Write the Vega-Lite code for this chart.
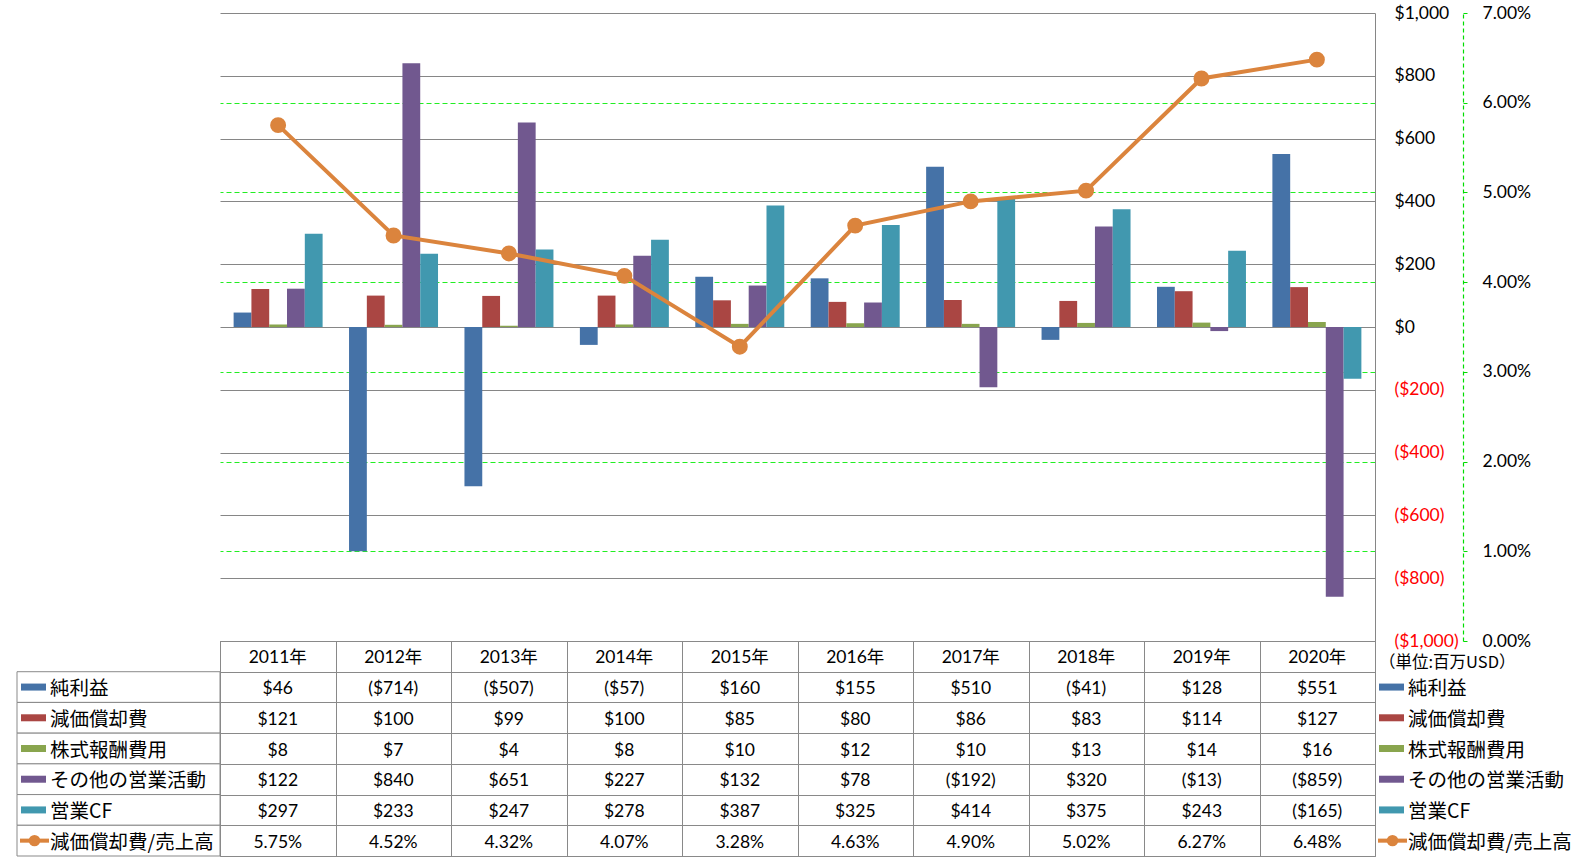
{
  "$schema": "https://vega.github.io/schema/vega-lite/v6.json",
  "padding": {"left": 16, "top": 4, "right": 0, "bottom": 0},
  "autosize": {"type": "pad"},
  "background": "white",
  "config": {
    "view": {"stroke": null},
    "font": "Lato, 'Noto Sans CJK JP'",
    "axis": {"labelFont": "Lato, 'Noto Sans CJK JP'"}
  },
  "datasets": {
    "cf": [
      {"year": "2011年", "series": "純利益", "value": 46},
      {"year": "2012年", "series": "純利益", "value": -714},
      {"year": "2013年", "series": "純利益", "value": -507},
      {"year": "2014年", "series": "純利益", "value": -57},
      {"year": "2015年", "series": "純利益", "value": 160},
      {"year": "2016年", "series": "純利益", "value": 155},
      {"year": "2017年", "series": "純利益", "value": 510},
      {"year": "2018年", "series": "純利益", "value": -41},
      {"year": "2019年", "series": "純利益", "value": 128},
      {"year": "2020年", "series": "純利益", "value": 551},
      {"year": "2011年", "series": "減価償却費", "value": 121},
      {"year": "2012年", "series": "減価償却費", "value": 100},
      {"year": "2013年", "series": "減価償却費", "value": 99},
      {"year": "2014年", "series": "減価償却費", "value": 100},
      {"year": "2015年", "series": "減価償却費", "value": 85},
      {"year": "2016年", "series": "減価償却費", "value": 80},
      {"year": "2017年", "series": "減価償却費", "value": 86},
      {"year": "2018年", "series": "減価償却費", "value": 83},
      {"year": "2019年", "series": "減価償却費", "value": 114},
      {"year": "2020年", "series": "減価償却費", "value": 127},
      {"year": "2011年", "series": "株式報酬費用", "value": 8},
      {"year": "2012年", "series": "株式報酬費用", "value": 7},
      {"year": "2013年", "series": "株式報酬費用", "value": 4},
      {"year": "2014年", "series": "株式報酬費用", "value": 8},
      {"year": "2015年", "series": "株式報酬費用", "value": 10},
      {"year": "2016年", "series": "株式報酬費用", "value": 12},
      {"year": "2017年", "series": "株式報酬費用", "value": 10},
      {"year": "2018年", "series": "株式報酬費用", "value": 13},
      {"year": "2019年", "series": "株式報酬費用", "value": 14},
      {"year": "2020年", "series": "株式報酬費用", "value": 16},
      {"year": "2011年", "series": "その他の営業活動", "value": 122},
      {"year": "2012年", "series": "その他の営業活動", "value": 840},
      {"year": "2013年", "series": "その他の営業活動", "value": 651},
      {"year": "2014年", "series": "その他の営業活動", "value": 227},
      {"year": "2015年", "series": "その他の営業活動", "value": 132},
      {"year": "2016年", "series": "その他の営業活動", "value": 78},
      {"year": "2017年", "series": "その他の営業活動", "value": -192},
      {"year": "2018年", "series": "その他の営業活動", "value": 320},
      {"year": "2019年", "series": "その他の営業活動", "value": -13},
      {"year": "2020年", "series": "その他の営業活動", "value": -859},
      {"year": "2011年", "series": "営業CF", "value": 297},
      {"year": "2012年", "series": "営業CF", "value": 233},
      {"year": "2013年", "series": "営業CF", "value": 247},
      {"year": "2014年", "series": "営業CF", "value": 278},
      {"year": "2015年", "series": "営業CF", "value": 387},
      {"year": "2016年", "series": "営業CF", "value": 325},
      {"year": "2017年", "series": "営業CF", "value": 414},
      {"year": "2018年", "series": "営業CF", "value": 375},
      {"year": "2019年", "series": "営業CF", "value": 243},
      {"year": "2020年", "series": "営業CF", "value": -165},
      {"year": "2011年", "series": "減価償却費/売上高", "value": 0.0575},
      {"year": "2012年", "series": "減価償却費/売上高", "value": 0.0452},
      {"year": "2013年", "series": "減価償却費/売上高", "value": 0.0432},
      {"year": "2014年", "series": "減価償却費/売上高", "value": 0.0407},
      {"year": "2015年", "series": "減価償却費/売上高", "value": 0.0328},
      {"year": "2016年", "series": "減価償却費/売上高", "value": 0.0463},
      {"year": "2017年", "series": "減価償却費/売上高", "value": 0.0490},
      {"year": "2018年", "series": "減価償却費/売上高", "value": 0.0502},
      {"year": "2019年", "series": "減価償却費/売上高", "value": 0.0627},
      {"year": "2020年", "series": "減価償却費/売上高", "value": 0.0648}
    ],
    "names": [
      {"series": "純利益", "kind": "bar"},
      {"series": "減価償却費", "kind": "bar"},
      {"series": "株式報酬費用", "kind": "bar"},
      {"series": "その他の営業活動", "kind": "bar"},
      {"series": "営業CF", "kind": "bar"},
      {"series": "減価償却費/売上高", "kind": "line"}
    ]
  },
  "columns": 3,
  "spacing": 0,
  "bounds": "flush",
  "resolve": {"scale": {"x": "independent", "y": "independent", "color": "independent", "xOffset": "independent"}},
  "concat": [
    {
      "width": 203, "height": 628,
      "data": {"values": []},
      "mark": "point",
      "encoding": {}
    },
    {
      "width": 1155, "height": 628,
      "data": {"name": "cf"},
      "layer": [
        {
          "transform": [{"filter": "datum.series == '減価償却費/売上高'"}],
          "mark": {"type": "line", "color": "#DB843D", "strokeWidth": 4, "opacity": 0},
          "encoding": {
            "x": {"field": "year", "type": "ordinal", "sort": null, "axis": null},
            "y": {"field": "value", "type": "quantitative",
                  "scale": {"domain": [0, 0.07], "nice": false, "zero": false},
                  "axis": {
                    "orient": "right", "offset": 88, "values": [0, 0.01, 0.02, 0.03, 0.04, 0.05, 0.06, 0.07],
                    "format": ".2%", "title": null,
                    "ticks": true, "tickSize": 4, "tickColor": "#00DD00",
                    "labelPadding": 15, "labelFontSize": 17.5, "labelColor": "#000000",
                    "labelFlush": false, "labelOverlap": false, "labelAlign": "left",
                    "domain": true, "domainColor": "#00DD00", "domainDash": [4, 3], "domainWidth": 1.2,
                    "grid": true, "gridColor": "#22EE22", "gridDash": [5, 3], "gridWidth": 1.2,
                    "gridOpacity": {"condition": {"test": "datum.value < 0.005 || datum.value > 0.065", "value": 0}, "value": 1}
                  }}
          }
        },
        {
          "transform": [{"filter": "datum.series != '減価償却費/売上高'"}],
          "mark": {"type": "bar"},
          "encoding": {
            "x": {"field": "year", "type": "ordinal", "sort": null,
                  "scale": {"paddingInner": 0.229, "paddingOuter": 0.118}, "axis": null},
            "xOffset": {"field": "series", "type": "nominal",
                  "sort": ["純利益", "減価償却費", "株式報酬費用", "その他の営業活動", "営業CF"],
                  "scale": {"paddingInner": 0, "paddingOuter": 0}},
            "y": {"field": "value", "type": "quantitative",
                  "scale": {"domain": [-1000, 1000], "nice": false, "zero": false},
                  "axis": {
                    "orient": "right", "values": [-1000, -800, -600, -400, -200, 0, 200, 400, 600, 800, 1000],
                    "title": null, "ticks": false, "labelPadding": 19,
                    "domain": true, "domainColor": "#868686", "domainWidth": 1,
                    "grid": true, "gridColor": "#868686", "gridWidth": 1,
                    "labelFontSize": 17.5, "labelFlush": false, "labelOverlap": false,
                    "labelAlign": "left",
                    "labelExpr": "datum.value < 0 ? '($' + format(-datum.value, ',') + ')' : '$' + format(datum.value, ',')",
                    "labelColor": {"condition": {"test": "datum.value < 0", "value": "#FF0000"}, "value": "#000000"}
                  }},
            "color": {"field": "series", "type": "nominal",
                  "scale": {"domain": ["純利益", "減価償却費", "株式報酬費用", "その他の営業活動", "営業CF"],
                            "range": ["#4572A7", "#AA4643", "#89A54E", "#71588F", "#4198AF"]},
                  "legend": null}
          }
        },
        {
          "transform": [{"filter": "datum.series == '減価償却費/売上高'"}],
          "mark": {"type": "line", "color": "#DB843D", "strokeWidth": 4,
                   "point": {"filled": true, "size": 254, "color": "#DB843D", "opacity": 1}},
          "encoding": {
            "x": {"field": "year", "type": "ordinal", "sort": null, "axis": null},
            "y": {"field": "value", "type": "quantitative",
                  "scale": {"domain": [0, 0.07], "nice": false, "zero": false}, "axis": null}
          }
        }
      ],
      "resolve": {"scale": {"y": "independent"}, "axis": {"y": "independent"}}
    },
    {
      "width": 207, "height": 628,
      "data": {"values": []},
      "mark": "point",
      "encoding": {}
    },
    {
      "width": 203, "height": 215,
      "data": {"name": "names"},
      "layer": [
        {
          "mark": {"type": "rect", "fill": "white", "stroke": "#898989", "strokeWidth": 1},
          "encoding": {
            "y": {"field": "series", "type": "nominal",
                  "scale": {"domain": ["_", "純利益", "減価償却費", "株式報酬費用", "その他の営業活動", "営業CF", "減価償却費/売上高"], "paddingInner": 0, "paddingOuter": 0},
                  "axis": null}
          }
        },
        {
          "transform": [{"filter": "datum.kind == 'bar'"}],
          "mark": {"type": "point", "filled": true, "opacity": 1, "size": 625, "shape": "M-1,-0.28L1,-0.28L1,0.28L-1,0.28Z"},
          "encoding": {
            "x": {"datum": 16.5, "type": "quantitative", "scale": {"domain": [0, 203], "nice": false, "zero": false}, "axis": null},
            "y": {"field": "series", "type": "nominal"},
            "color": {"field": "series", "type": "nominal",
                  "scale": {"domain": ["純利益", "減価償却費", "株式報酬費用", "その他の営業活動", "営業CF"],
                            "range": ["#4572A7", "#AA4643", "#89A54E", "#71588F", "#4198AF"]},
                  "legend": null}
          }
        },
        {
          "transform": [{"filter": "datum.kind == 'line'"}],
          "mark": {"type": "point", "filled": true, "opacity": 1, "size": 841, "color": "#DB843D", "shape": "M-1,-0.14L1,-0.14L1,0.14L-1,0.14Z"},
          "encoding": {
            "x": {"datum": 17.5, "type": "quantitative"},
            "y": {"field": "series", "type": "nominal"}
          }
        },
        {
          "transform": [{"filter": "datum.kind == 'line'"}],
          "mark": {"type": "point", "filled": true, "opacity": 1, "size": 130, "color": "#DB843D"},
          "encoding": {
            "x": {"datum": 17.5, "type": "quantitative"},
            "y": {"field": "series", "type": "nominal"}
          }
        },
        {
          "mark": {"type": "text", "align": "left", "baseline": "middle", "dy": 2, "font": "'Noto Sans CJK JP'", "fontSize": 19.5, "color": "#000000"},
          "encoding": {
            "x": {"datum": 33, "type": "quantitative"},
            "y": {"field": "series", "type": "nominal"},
            "text": {"field": "series"}
          }
        }
      ]
    },
    {
      "width": 1155, "height": 215,
      "view": {"stroke": "#898989", "strokeWidth": 1},
      "data": {"name": "cf"},
      "layer": [
        {
          "transform": [{"filter": "datum.series != '減価償却費/売上高'"}],
          "mark": {"type": "text", "baseline": "middle", "align": "center", "dy": 2, "fontSize": 17.5, "color": "#000000"},
          "encoding": {
            "x": {"field": "year", "type": "ordinal", "sort": null,
                  "scale": {"paddingInner": 0, "paddingOuter": 0},
                  "axis": {"title": null, "labels": false, "ticks": false, "domain": false, "grid": true, "tickBand": "extent", "gridColor": "#898989", "gridWidth": 1}},
            "y": {"field": "series", "type": "nominal",
                  "scale": {"domain": ["_", "純利益", "減価償却費", "株式報酬費用", "その他の営業活動", "営業CF", "減価償却費/売上高"], "paddingInner": 0, "paddingOuter": 0},
                  "axis": {"title": null, "labels": false, "ticks": false, "domain": false, "grid": true, "tickBand": "extent", "gridColor": "#898989", "gridWidth": 1}},
            "text": {"field": "value", "type": "quantitative", "format": "($,.0f"}
          }
        },
        {
          "transform": [{"filter": "datum.series == '減価償却費/売上高'"}],
          "mark": {"type": "text", "baseline": "middle", "align": "center", "dy": 2, "fontSize": 17.5, "color": "#000000"},
          "encoding": {
            "x": {"field": "year", "type": "ordinal", "sort": null},
            "y": {"field": "series", "type": "nominal"},
            "text": {"field": "value", "type": "quantitative", "format": ".2%"}
          }
        },
        {
          "transform": [{"filter": "datum.series == '減価償却費/売上高'"}],
          "mark": {"type": "text", "baseline": "middle", "align": "center", "dy": 2, "fontSize": 17.5, "color": "#000000"},
          "encoding": {
            "x": {"field": "year", "type": "ordinal", "sort": null},
            "y": {"datum": "_", "type": "nominal"},
            "text": {"field": "year"}
          }
        }
      ]
    },
    {
      "width": 207, "height": 215,
      "data": {"name": "names"},
      "layer": [
        {
          "transform": [{"filter": "datum.kind == 'line'"}],
          "mark": {"type": "text", "align": "left", "baseline": "middle", "dy": 7, "font": "'Noto Sans CJK JP'", "fontSize": 16.5, "color": "#000000", "text": "（単位:百万USD）"},
          "encoding": {
            "x": {"datum": 4, "type": "quantitative", "scale": {"domain": [0, 207], "nice": false, "zero": false}, "axis": null},
            "y": {"datum": "_", "type": "nominal",
                  "scale": {"domain": ["_", "純利益", "減価償却費", "株式報酬費用", "その他の営業活動", "営業CF", "減価償却費/売上高"], "paddingInner": 0, "paddingOuter": 0},
                  "axis": null}
          }
        },
        {
          "transform": [{"filter": "datum.kind == 'bar'"}],
          "mark": {"type": "point", "filled": true, "opacity": 1, "size": 625, "shape": "M-1,-0.28L1,-0.28L1,0.28L-1,0.28Z"},
          "encoding": {
            "x": {"datum": 16.5, "type": "quantitative"},
            "y": {"field": "series", "type": "nominal"},
            "color": {"field": "series", "type": "nominal",
                  "scale": {"domain": ["純利益", "減価償却費", "株式報酬費用", "その他の営業活動", "営業CF"],
                            "range": ["#4572A7", "#AA4643", "#89A54E", "#71588F", "#4198AF"]},
                  "legend": null}
          }
        },
        {
          "transform": [{"filter": "datum.kind == 'line'"}],
          "mark": {"type": "point", "filled": true, "opacity": 1, "size": 841, "color": "#DB843D", "shape": "M-1,-0.14L1,-0.14L1,0.14L-1,0.14Z"},
          "encoding": {
            "x": {"datum": 17.5, "type": "quantitative"},
            "y": {"field": "series", "type": "nominal"}
          }
        },
        {
          "transform": [{"filter": "datum.kind == 'line'"}],
          "mark": {"type": "point", "filled": true, "opacity": 1, "size": 130, "color": "#DB843D"},
          "encoding": {
            "x": {"datum": 17.5, "type": "quantitative"},
            "y": {"field": "series", "type": "nominal"}
          }
        },
        {
          "mark": {"type": "text", "align": "left", "baseline": "middle", "dy": 2, "font": "'Noto Sans CJK JP'", "fontSize": 19.5, "color": "#000000"},
          "encoding": {
            "x": {"datum": 33, "type": "quantitative"},
            "y": {"field": "series", "type": "nominal"},
            "text": {"field": "series"}
          }
        }
      ]
    }
  ]
}
